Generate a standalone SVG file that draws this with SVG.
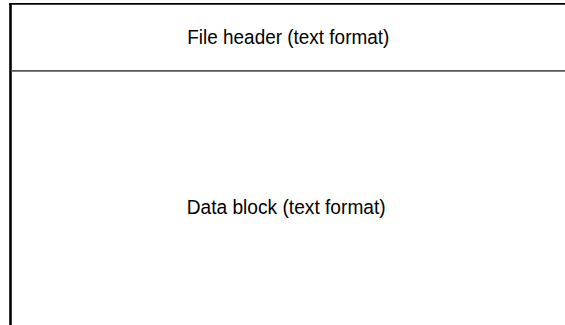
<svg xmlns="http://www.w3.org/2000/svg" width="565" height="325" viewBox="0 0 565 325">
<style>
.t{font-family:"Liberation Sans",Arial,Helvetica,sans-serif;font-size:20.5px;fill:#000}
.b{stroke:#000;fill:none}
</style>
<rect width="565" height="325" fill="#fff"/>
<g id="connectors">
<line class="b" x1="9" y1="3.8" x2="565" y2="3.8" stroke-width="1.8"/>
<line class="b" x1="10.5" y1="3" x2="10.5" y2="325" stroke-width="2.6"/>
<line x1="11" y1="70.9" x2="565" y2="70.9" stroke="#555" stroke-width="1.6"/>
</g>
<g id="file-header">
<text class="t" x="187.3" y="44.3" textLength="202" lengthAdjust="spacingAndGlyphs">File header (text format)</text>
</g>
<g id="data-block">
<text class="t" x="186.7" y="214.4" textLength="199" lengthAdjust="spacingAndGlyphs">Data block (text format)</text>
</g>
</svg>
